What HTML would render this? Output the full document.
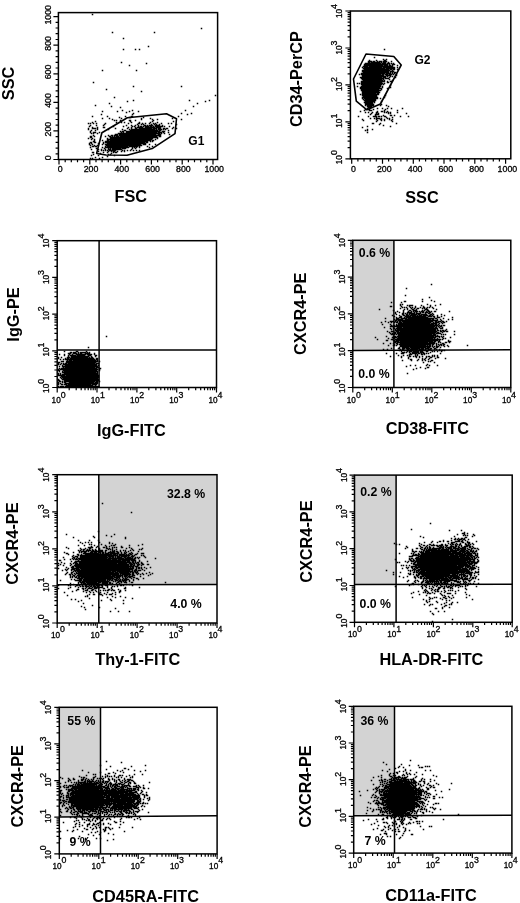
<!DOCTYPE html>
<html lang="en">
<head>
<meta charset="utf-8">
<title>Flow cytometry figure</title>
<style>
html,body{margin:0;padding:0;background:#fff}
svg{display:block;font-family:"Liberation Sans", Arial, Helvetica, sans-serif;fill:#000}
</style>
</head>
<body>
<svg width="520" height="903" viewBox="0 0 520 903">
<rect width="520" height="903" fill="#fff"/>
<path transform="translate(58.5 12.5)" d="M34 2h0M143 16h0M54 20h0M96 20h0M65 26h0M90 34h0M65 37h0M77 37h0M81 37h0M63 50h0M88 51h0M71 53h0M44 58h0M78 58h0M35 70h0M75 74h0M123 74h0M48 77h0M83 79h0M157 83h0M56 85h0M75 88h0M131 88h0M151 88h0M69 89h0M147 89h0M51 91h0M139 91h0M37 93h0M53 94h0M135 94h0M62 95h0M64 98h0M74 98h0M127 98h0M44 99h0M59 99h0M71 99h0M80 99h0M68 100h0M75 101h0M123 101h0M133 101h0M43 102h0M74 102h0M129 102h0M34 104h0M49 104h0M67 104h0M73 104h1M120 104h0M61 105h0M71 105h1M85 105h0M44 106h0M51 106h0M63 106h0M83 106h0M92 106h0M114 106h0M54 107h0M83 107h0M94 107h0M99 107h0M123 107h0M56 108h0M58 108h0M62 108h0M71 108h1M77 108h0M95 108h0M37 109h0M72 109h0M94 109h0M115 109h0M34 110h0M58 110h0M63 110h0M66 110h0M73 110h0M81 110h0M92 110h0M99 110h0M30 111h0M32 111h0M35 111h0M38 111h0M47 111h0M70 111h0M80 111h1M84 111h0M87 111h0M91 111h0M95 111h0M97 111h0M103 111h0M110 111h0M113 111h0M46 112h0M79 112h0M83 112h0M85 112h0M93 112h0M96 112h0M98 112h0M101 112h0M118 112h0M32 113h0M38 113h0M45 113h0M68 113h0M73 113h0M77 113h0M80 113h0M86 113h1M89 113h0M91 113h3M97 113h4M104 113h0M31 114h0M55 114h0M65 114h0M74 114h0M76 114h0M80 114h0M82 114h1M85 114h0M87 114h3M92 114h1M95 114h0M97 114h7M106 114h0M111 114h0M34 115h0M39 115h0M45 115h1M70 115h0M73 115h0M77 115h0M79 115h5M87 115h9M98 115h4M115 115h0M30 116h0M34 116h3M39 116h0M57 116h0M69 116h0M73 116h0M77 116h1M81 116h12M95 116h3M100 116h2M105 116h1M108 116h1M114 116h0M118 116h0M30 117h0M39 117h0M50 117h0M64 117h0M71 117h0M73 117h23M98 117h0M100 117h3M105 117h0M107 117h0M33 118h0M37 118h0M66 118h1M72 118h27M101 118h1M110 118h0M32 119h0M62 119h0M64 119h1M68 119h33M104 119h2M32 120h0M35 120h2M41 120h0M63 120h0M65 120h0M68 120h30M100 120h3M105 120h0M110 120h0M33 121h0M35 121h0M39 121h0M60 121h41M103 121h0M106 121h0M57 122h2M61 122h36M100 122h2M111 122h0M35 123h0M50 123h0M53 123h1M56 123h3M61 123h41M32 124h1M36 124h0M47 124h0M51 124h1M54 124h0M56 124h0M58 124h2M62 124h36M101 124h1M32 125h1M52 125h47M30 126h0M34 126h0M49 126h0M52 126h42M99 126h0M33 127h0M36 127h0M49 127h44M97 127h0M36 128h0M44 128h0M49 128h1M52 128h40M94 128h1M35 129h1M47 129h42M92 129h0M94 129h0M32 130h1M36 130h1M45 130h0M47 130h39M88 130h1M31 131h0M33 131h0M40 131h0M45 131h0M49 131h38M31 132h0M34 132h0M44 132h0M47 132h35M85 132h2M91 132h0M97 132h0M32 133h0M36 133h0M39 133h0M48 133h35M34 134h1M37 134h1M47 134h0M49 134h20M71 134h8M81 134h0M89 134h0M94 134h0M32 135h0M44 135h0M47 135h23M74 135h0M76 135h0M78 135h0M81 135h0M91 135h0M38 136h0M46 136h0M50 136h0M52 136h0M54 136h8M64 136h3M74 136h0M77 136h0M33 137h0M40 137h0M43 137h0M47 137h0M50 137h2M54 137h9M73 137h0M43 138h0M45 138h0M47 138h0M49 138h0M51 138h6M64 138h0M66 138h0M69 138h0M72 138h0M75 138h0M78 138h0M81 138h0M40 139h0M50 139h0M53 139h0M55 139h1M59 139h0M63 139h0M66 139h0M34 140h1M45 140h0M49 140h0M55 140h0M57 140h1M42 141h0M53 141h0M35 142h0M50 142h0M52 142h0M33 143h0M40 143h0M56 143h0M49 144h0M37 145h0M44 145h0M32 146h0M34 146h0M41 146h0" fill="none" stroke="#000" stroke-width="1.5" stroke-linecap="square"/>
<polygon points="96.6,153.5 101.9,132.7 127.3,117.7 166.5,113.8 176.5,118.8 175,133.6 152.2,148.6 127,155.2 106,155" fill="none" stroke="#000" stroke-width="1.6" stroke-linejoin="round"/>
<rect x="58.4" y="12.6" width="159.2" height="146.9" fill="none" stroke="#000" stroke-width="1.5"/>
<path d="M59 159.5L59 164.5M65.2 159.5L65.2 162.3M71.3 159.5L71.3 162.3M77.5 159.5L77.5 162.3M83.6 159.5L83.6 162.3M89.8 159.5L89.8 164.5M96 159.5L96 162.3M102.1 159.5L102.1 162.3M108.3 159.5L108.3 162.3M114.4 159.5L114.4 162.3M120.6 159.5L120.6 164.5M126.8 159.5L126.8 162.3M132.9 159.5L132.9 162.3M139.1 159.5L139.1 162.3M145.2 159.5L145.2 162.3M151.4 159.5L151.4 164.5M157.6 159.5L157.6 162.3M163.7 159.5L163.7 162.3M169.9 159.5L169.9 162.3M176 159.5L176 162.3M182.2 159.5L182.2 164.5M188.4 159.5L188.4 162.3M194.5 159.5L194.5 162.3M200.7 159.5L200.7 162.3M206.8 159.5L206.8 162.3M213 159.5L213 164.5M53.4 159.5L58.4 159.5M55.6 153.8L58.4 153.8M55.6 148.1L58.4 148.1M55.6 142.4L58.4 142.4M55.6 136.6L58.4 136.6M53.4 130.9L58.4 130.9M55.6 125.2L58.4 125.2M55.6 119.5L58.4 119.5M55.6 113.8L58.4 113.8M55.6 108.1L58.4 108.1M53.4 102.3L58.4 102.3M55.6 96.6L58.4 96.6M55.6 90.9L58.4 90.9M55.6 85.2L58.4 85.2M55.6 79.5L58.4 79.5M53.4 73.8L58.4 73.8M55.6 68L58.4 68M55.6 62.3L58.4 62.3M55.6 56.6L58.4 56.6M55.6 50.9L58.4 50.9M53.4 45.2L58.4 45.2M55.6 39.5L58.4 39.5M55.6 33.7L58.4 33.7M55.6 28L58.4 28M55.6 22.3L58.4 22.3M53.4 16.6L58.4 16.6" stroke="#000" stroke-width="1.2" fill="none"/>
<text x="60.2" y="172.1" font-size="8.8" stroke="#000" stroke-width="0.3" text-anchor="middle">0</text>
<text transform="translate(50.8 157.7) rotate(-90)" font-size="8.8" stroke="#000" stroke-width="0.3" text-anchor="middle">0</text>
<text x="91" y="172.1" font-size="8.8" stroke="#000" stroke-width="0.3" text-anchor="middle">200</text>
<text transform="translate(50.8 129.1) rotate(-90)" font-size="8.8" stroke="#000" stroke-width="0.3" text-anchor="middle">200</text>
<text x="121.8" y="172.1" font-size="8.8" stroke="#000" stroke-width="0.3" text-anchor="middle">400</text>
<text transform="translate(50.8 100.5) rotate(-90)" font-size="8.8" stroke="#000" stroke-width="0.3" text-anchor="middle">400</text>
<text x="152.6" y="172.1" font-size="8.8" stroke="#000" stroke-width="0.3" text-anchor="middle">600</text>
<text transform="translate(50.8 72) rotate(-90)" font-size="8.8" stroke="#000" stroke-width="0.3" text-anchor="middle">600</text>
<text x="183.4" y="172.1" font-size="8.8" stroke="#000" stroke-width="0.3" text-anchor="middle">800</text>
<text transform="translate(50.8 43.4) rotate(-90)" font-size="8.8" stroke="#000" stroke-width="0.3" text-anchor="middle">800</text>
<text x="214.2" y="172.1" font-size="8.8" stroke="#000" stroke-width="0.3" text-anchor="middle">1000</text>
<text transform="translate(50.8 14.8) rotate(-90)" font-size="8.8" stroke="#000" stroke-width="0.3" text-anchor="middle">1000</text>
<text x="188.3" y="144.8" font-size="12" font-weight="bold" text-anchor="start">G1</text>
<text transform="translate(14.2 83.5) rotate(-90)" font-size="16.3" font-weight="bold" text-anchor="middle">SSC</text>
<text x="130.8" y="201.9" font-size="16.3" font-weight="bold" text-anchor="middle">FSC</text>
<path transform="translate(350.5 11.5)" d="M34 38h0M24 46h0M33 48h0M36 48h0M19 49h0M26 49h0M34 49h1M18 50h3M23 50h1M27 50h0M29 50h2M33 50h3M41 50h0M18 51h1M21 51h8M31 51h0M33 51h2M38 51h0M15 52h15M32 52h3M37 52h2M41 52h0M43 52h0M14 53h23M39 53h0M42 53h2M14 54h18M34 54h3M39 54h1M42 54h0M47 54h0M13 55h4M19 55h23M12 56h0M14 56h17M33 56h11M47 56h0M13 57h21M36 57h8M14 58h24M40 58h1M43 58h1M47 58h0M12 59h27M42 59h0M12 60h26M40 60h3M13 61h25M40 61h0M42 61h0M44 61h1M11 62h23M36 62h4M42 62h0M44 62h0M9 63h0M11 63h19M32 63h1M35 63h2M39 63h2M43 63h0M46 63h0M12 64h21M36 64h4M46 64h0M12 65h23M37 65h0M40 65h0M42 65h0M10 66h21M33 66h2M39 66h0M45 66h0M11 67h22M35 67h3M12 68h19M33 68h0M39 68h0M13 69h19M34 69h0M42 69h0M11 70h23M37 70h0M40 70h1M11 71h20M37 71h1M7 72h0M9 72h0M11 72h21M34 72h0M11 73h20M33 73h0M12 74h18M40 74h0M7 75h0M11 75h19M32 75h0M10 76h19M32 76h0M40 76h0M10 77h21M37 77h0M11 78h17M31 78h0M11 79h19M12 80h16M12 81h17M12 82h13M27 82h1M10 83h0M12 83h16M12 84h14M35 84h0M13 85h13M12 86h15M34 86h0M12 87h0M14 87h13M30 87h0M13 88h0M15 88h10M14 89h11M15 90h9M31 90h0M14 91h8M24 91h0M15 92h7M15 93h8M31 93h0M15 94h0M17 94h6M30 94h0M36 94h0M17 95h4M38 95h0M18 96h3M17 97h0M27 97h0M32 97h0M37 97h0M41 97h0M52 97h0M15 98h0M18 98h1M23 98h0M35 98h0M14 99h0M19 99h2M34 99h0M47 99h0M10 100h0M27 100h0M31 100h1M34 100h0M37 100h0M15 101h0M18 101h0M22 101h0M26 101h1M34 101h0M36 101h0M38 101h0M40 101h0M47 101h0M21 102h0M26 102h0M28 102h0M38 102h0M40 102h0M56 102h0M20 103h0M25 103h3M25 104h0M33 104h0M40 104h1M44 104h0M8 105h0M18 105h0M23 105h3M28 105h1M31 105h0M34 105h1M50 105h0M58 105h0M26 106h0M36 106h0M42 106h0M20 107h0M24 107h0M26 107h3M31 107h0M37 107h0M39 107h0M12 108h0M26 108h0M30 108h1M34 108h0M39 108h0M42 108h0M13 109h0M27 109h0M31 109h0M34 109h0M41 109h0M26 110h0M42 110h0M22 112h1M30 112h0M46 112h0M29 113h0M33 114h0M17 115h0M40 115h0M12 116h0M17 118h0M22 118h0M15 119h0M17 119h0M17 121h0" fill="none" stroke="#000" stroke-width="1.5" stroke-linecap="square"/>
<polygon points="366,54 393.8,56.5 401.2,65 380.4,104 366.9,109.8 356.3,101.2 353.5,79" fill="none" stroke="#000" stroke-width="1.6" stroke-linejoin="round"/>
<rect x="350.4" y="11" width="160.4" height="147.8" fill="none" stroke="#000" stroke-width="1.5"/>
<path d="M351.7 158.8L351.7 163.8M357.9 158.8L357.9 161.6M364 158.8L364 161.6M370.2 158.8L370.2 161.6M376.3 158.8L376.3 161.6M382.5 158.8L382.5 163.8M388.6 158.8L388.6 161.6M394.8 158.8L394.8 161.6M400.9 158.8L400.9 161.6M407.1 158.8L407.1 161.6M413.3 158.8L413.3 163.8M419.4 158.8L419.4 161.6M425.6 158.8L425.6 161.6M431.7 158.8L431.7 161.6M437.9 158.8L437.9 161.6M444 158.8L444 163.8M450.2 158.8L450.2 161.6M456.4 158.8L456.4 161.6M462.5 158.8L462.5 161.6M468.7 158.8L468.7 161.6M474.8 158.8L474.8 163.8M481 158.8L481 161.6M487.1 158.8L487.1 161.6M493.3 158.8L493.3 161.6M499.4 158.8L499.4 161.6M505.6 158.8L505.6 163.8M345.4 158.8L350.4 158.8M347.6 147.7L350.4 147.7M347.6 141.2L350.4 141.2M347.6 136.6L350.4 136.6M347.6 133L350.4 133M347.6 130L350.4 130M347.6 127.6L350.4 127.6M347.6 125.4L350.4 125.4M347.6 123.5L350.4 123.5M345.4 121.9L350.4 121.9M347.6 110.7L350.4 110.7M347.6 104.2L350.4 104.2M347.6 99.6L350.4 99.6M347.6 96L350.4 96M347.6 93.1L350.4 93.1M347.6 90.6L350.4 90.6M347.6 88.5L350.4 88.5M347.6 86.6L350.4 86.6M345.4 84.9L350.4 84.9M347.6 73.8L350.4 73.8M347.6 67.3L350.4 67.3M347.6 62.7L350.4 62.7M347.6 59.1L350.4 59.1M347.6 56.1L350.4 56.1M347.6 53.7L350.4 53.7M347.6 51.5L350.4 51.5M347.6 49.6L350.4 49.6M345.4 48L350.4 48M347.6 36.8L350.4 36.8M347.6 30.3L350.4 30.3M347.6 25.7L350.4 25.7M347.6 22.1L350.4 22.1M347.6 19.2L350.4 19.2M347.6 16.7L350.4 16.7M347.6 14.6L350.4 14.6M347.6 12.7L350.4 12.7M345.4 11L350.4 11" stroke="#000" stroke-width="1.2" fill="none"/>
<text x="353.5" y="171.7" font-size="8.8" stroke="#000" stroke-width="0.3" text-anchor="middle">0</text>
<text x="384.3" y="171.7" font-size="8.8" stroke="#000" stroke-width="0.3" text-anchor="middle">200</text>
<text x="415.1" y="171.7" font-size="8.8" stroke="#000" stroke-width="0.3" text-anchor="middle">400</text>
<text x="445.8" y="171.7" font-size="8.8" stroke="#000" stroke-width="0.3" text-anchor="middle">600</text>
<text x="476.6" y="171.7" font-size="8.8" stroke="#000" stroke-width="0.3" text-anchor="middle">800</text>
<text x="507.4" y="171.7" font-size="8.8" stroke="#000" stroke-width="0.3" text-anchor="middle">1000</text>
<text transform="translate(342.2 164.2) rotate(-90)" font-size="8.2" stroke="#000" stroke-width="0.3" text-anchor="start">10<tspan dy="-5.2" font-size="8.8">0</tspan></text>
<text transform="translate(342.2 127.7) rotate(-90)" font-size="8.2" stroke="#000" stroke-width="0.3" text-anchor="start">10<tspan dy="-5.2" font-size="8.8">1</tspan></text>
<text transform="translate(342.2 91.1) rotate(-90)" font-size="8.2" stroke="#000" stroke-width="0.3" text-anchor="start">10<tspan dy="-5.2" font-size="8.8">2</tspan></text>
<text transform="translate(342.2 54.6) rotate(-90)" font-size="8.2" stroke="#000" stroke-width="0.3" text-anchor="start">10<tspan dy="-5.2" font-size="8.8">3</tspan></text>
<text transform="translate(342.2 18) rotate(-90)" font-size="8.2" stroke="#000" stroke-width="0.3" text-anchor="start">10<tspan dy="-5.2" font-size="8.8">4</tspan></text>
<text x="414.4" y="63.7" font-size="12" font-weight="bold" text-anchor="start">G2</text>
<text transform="translate(301.5 79.1) rotate(-90)" font-size="16.3" font-weight="bold" text-anchor="middle">CD34-PerCP</text>
<text x="422" y="203.1" font-size="16.3" font-weight="bold" text-anchor="middle">SSC</text>
<path transform="translate(57.5 240.5)" d="M49 96h0M31 107h0M7 111h0M19 111h1M29 111h0M13 112h1M16 112h2M21 112h0M23 112h5M30 112h0M32 112h0M11 113h2M16 113h3M21 113h0M23 113h1M28 113h4M37 113h0M2 114h0M7 114h0M12 114h0M15 114h0M19 114h9M30 114h4M37 114h0M7 115h0M11 115h0M13 115h5M20 115h7M31 115h2M38 115h1M11 116h0M14 116h17M34 116h0M38 116h0M1 117h0M4 117h0M10 117h2M14 117h16M32 117h0M34 117h1M1 118h0M8 118h0M10 118h1M13 118h23M39 118h1M3 119h0M6 119h0M8 119h29M39 119h1M10 120h0M12 120h2M16 120h22M40 120h0M4 121h2M9 121h31M42 121h0M1 122h1M9 122h29M1 123h0M4 123h0M6 123h0M8 123h1M11 123h26M39 123h2M1 124h0M3 124h0M6 124h33M5 125h0M8 125h31M41 125h0M2 126h0M5 126h35M6 127h0M8 127h29M39 127h2M2 128h0M4 128h35M42 128h1M1 129h0M3 129h37M42 129h0M1 130h1M6 130h33M42 130h0M2 131h0M5 131h0M7 131h33M5 132h33M40 132h0M1 133h0M3 133h0M7 133h33M1 134h0M3 134h0M5 134h35M1 135h6M9 135h32M4 136h37M3 137h0M5 137h36M4 138h0M6 138h34M1 139h0M5 139h36M1 140h1M7 140h34M2 141h1M5 141h0M7 141h30M39 141h1M42 141h0M1 142h0M5 142h0M7 142h1M12 142h24M38 142h2M1 143h0M3 143h0M8 143h32M1 144h0M4 144h1M7 144h2M11 144h22M35 144h4M9 145h26M38 145h0M1 146h0M3 146h3M8 146h33" fill="none" stroke="#000" stroke-width="1.5" stroke-linecap="square"/>
<rect x="57.2" y="240.7" width="159.3" height="146.8" fill="none" stroke="#000" stroke-width="1.5"/>
<path d="M99.1 240.7L99.1 387.5" stroke="#000" stroke-width="1.5" fill="none"/>
<path d="M57.2 350L216.5 350" stroke="#000" stroke-width="1.5" fill="none"/>
<path d="M57.2 387.5L57.2 392.5M69.2 387.5L69.2 390.3M76.2 387.5L76.2 390.3M81.2 387.5L81.2 390.3M85 387.5L85 390.3M88.2 387.5L88.2 390.3M90.9 387.5L90.9 390.3M93.2 387.5L93.2 390.3M95.2 387.5L95.2 390.3M97 387.5L97 392.5M109 387.5L109 390.3M116 387.5L116 390.3M121 387.5L121 390.3M124.9 387.5L124.9 390.3M128 387.5L128 390.3M130.7 387.5L130.7 390.3M133 387.5L133 390.3M135 387.5L135 390.3M136.9 387.5L136.9 392.5M148.8 387.5L148.8 390.3M155.9 387.5L155.9 390.3M160.8 387.5L160.8 390.3M164.7 387.5L164.7 390.3M167.8 387.5L167.8 390.3M170.5 387.5L170.5 390.3M172.8 387.5L172.8 390.3M174.9 387.5L174.9 390.3M176.7 387.5L176.7 392.5M188.7 387.5L188.7 390.3M195.7 387.5L195.7 390.3M200.7 387.5L200.7 390.3M204.5 387.5L204.5 390.3M207.7 387.5L207.7 390.3M210.3 387.5L210.3 390.3M212.6 387.5L212.6 390.3M214.7 387.5L214.7 390.3M216.5 387.5L216.5 392.5M52.2 387.5L57.2 387.5M54.4 376.5L57.2 376.5M54.4 370L57.2 370M54.4 365.4L57.2 365.4M54.4 361.8L57.2 361.8M54.4 358.9L57.2 358.9M54.4 356.5L57.2 356.5M54.4 354.4L57.2 354.4M54.4 352.5L57.2 352.5M52.2 350.8L57.2 350.8M54.4 339.8L57.2 339.8M54.4 333.3L57.2 333.3M54.4 328.7L57.2 328.7M54.4 325.1L57.2 325.1M54.4 322.2L57.2 322.2M54.4 319.8L57.2 319.8M54.4 317.7L57.2 317.7M54.4 315.8L57.2 315.8M52.2 314.1L57.2 314.1M54.4 303.1L57.2 303.1M54.4 296.6L57.2 296.6M54.4 292L57.2 292M54.4 288.4L57.2 288.4M54.4 285.5L57.2 285.5M54.4 283.1L57.2 283.1M54.4 281L57.2 281M54.4 279.1L57.2 279.1M52.2 277.4L57.2 277.4M54.4 266.4L57.2 266.4M54.4 259.9L57.2 259.9M54.4 255.3L57.2 255.3M54.4 251.7L57.2 251.7M54.4 248.8L57.2 248.8M54.4 246.4L57.2 246.4M54.4 244.3L57.2 244.3M54.4 242.4L57.2 242.4M52.2 240.7L57.2 240.7" stroke="#000" stroke-width="1.2" fill="none"/>
<text x="51.6" y="403.4" font-size="8.2" stroke="#000" stroke-width="0.3" text-anchor="start">10<tspan dy="-5.2" font-size="8.8">0</tspan></text>
<text transform="translate(49.2 392.9) rotate(-90)" font-size="8.2" stroke="#000" stroke-width="0.3" text-anchor="start">10<tspan dy="-5.2" font-size="8.8">0</tspan></text>
<text x="90.8" y="403.4" font-size="8.2" stroke="#000" stroke-width="0.3" text-anchor="start">10<tspan dy="-5.2" font-size="8.8">1</tspan></text>
<text transform="translate(49.2 356.6) rotate(-90)" font-size="8.2" stroke="#000" stroke-width="0.3" text-anchor="start">10<tspan dy="-5.2" font-size="8.8">1</tspan></text>
<text x="130.1" y="403.4" font-size="8.2" stroke="#000" stroke-width="0.3" text-anchor="start">10<tspan dy="-5.2" font-size="8.8">2</tspan></text>
<text transform="translate(49.2 320.3) rotate(-90)" font-size="8.2" stroke="#000" stroke-width="0.3" text-anchor="start">10<tspan dy="-5.2" font-size="8.8">2</tspan></text>
<text x="169.3" y="403.4" font-size="8.2" stroke="#000" stroke-width="0.3" text-anchor="start">10<tspan dy="-5.2" font-size="8.8">3</tspan></text>
<text transform="translate(49.2 284) rotate(-90)" font-size="8.2" stroke="#000" stroke-width="0.3" text-anchor="start">10<tspan dy="-5.2" font-size="8.8">3</tspan></text>
<text x="208.5" y="403.4" font-size="8.2" stroke="#000" stroke-width="0.3" text-anchor="start">10<tspan dy="-5.2" font-size="8.8">4</tspan></text>
<text transform="translate(49.2 247.7) rotate(-90)" font-size="8.2" stroke="#000" stroke-width="0.3" text-anchor="start">10<tspan dy="-5.2" font-size="8.8">4</tspan></text>
<text transform="translate(19 314.5) rotate(-90)" font-size="16.3" font-weight="bold" text-anchor="middle">IgG-PE</text>
<text x="131.3" y="435.6" font-size="16.3" font-weight="bold" text-anchor="middle">IgG-FITC</text>
<rect x="352.8" y="240.3" width="41.1" height="110.3" fill="#d3d3d3"/>
<path transform="translate(352.5 240.5)" d="M79 44h0M54 48h0M53 55h0M77 57h0M70 59h0M79 60h0M52 61h1M70 61h0M82 61h0M39 62h0M49 62h0M48 64h0M50 64h0M75 64h0M88 64h0M48 65h0M55 65h0M57 65h3M69 65h0M78 65h0M83 65h0M38 66h1M49 66h0M57 66h0M63 66h0M71 66h0M78 66h0M50 67h0M52 67h0M54 67h0M58 67h0M60 67h0M63 67h0M68 67h0M71 67h1M75 67h0M77 67h0M80 67h0M48 68h0M55 68h0M59 68h0M62 68h0M65 68h1M70 68h0M72 68h0M74 68h0M81 68h0M27 69h0M52 69h0M55 69h0M60 69h1M64 69h0M73 69h2M84 69h0M41 70h0M51 70h0M57 70h1M61 70h3M70 70h0M72 70h0M75 70h1M45 71h0M51 71h0M56 71h0M59 71h0M61 71h0M63 71h2M67 71h0M69 71h2M74 71h0M76 71h1M79 71h0M82 71h1M97 71h0M43 72h0M47 72h0M51 72h0M55 72h4M62 72h0M64 72h0M68 72h0M70 72h1M73 72h2M77 72h1M43 73h0M50 73h1M53 73h0M55 73h0M57 73h5M64 73h4M73 73h0M76 73h1M80 73h0M44 74h0M50 74h1M54 74h1M57 74h0M59 74h5M66 74h1M69 74h5M78 74h1M81 74h0M89 74h0M40 75h0M47 75h0M51 75h1M54 75h2M58 75h5M65 75h0M67 75h2M71 75h4M77 75h1M80 75h0M85 75h0M92 75h0M42 76h0M48 76h1M53 76h5M60 76h13M76 76h3M81 76h1M85 76h0M89 76h0M44 77h0M47 77h2M52 77h0M54 77h21M82 77h0M85 77h2M100 77h0M33 78h0M44 78h2M49 78h5M56 78h25M83 78h1M91 78h0M42 79h0M44 79h6M53 79h25M80 79h1M85 79h0M88 79h0M96 79h0M100 79h0M43 80h1M46 80h39M89 80h0M33 81h0M38 81h3M43 81h0M45 81h0M47 81h1M50 81h30M83 81h1M86 81h2M90 81h1M94 81h0M29 82h0M36 82h0M39 82h0M42 82h0M44 82h1M47 82h2M51 82h27M81 82h0M83 82h3M89 82h0M91 82h1M46 83h31M79 83h5M87 83h0M90 83h0M30 84h0M38 84h0M44 84h0M46 84h35M83 84h1M86 84h0M39 85h0M41 85h1M44 85h41M87 85h0M89 85h0M91 85h1M38 86h2M42 86h40M84 86h0M86 86h0M88 86h1M32 87h0M41 87h0M45 87h4M51 87h30M83 87h1M87 87h0M90 87h0M38 88h0M41 88h1M44 88h41M88 88h2M39 89h0M43 89h0M45 89h38M85 89h0M94 89h0M43 90h40M85 90h1M88 90h0M90 90h1M93 90h0M35 91h0M39 91h2M44 91h2M48 91h36M88 91h1M91 91h1M94 91h1M102 91h0M37 92h0M42 92h1M45 92h38M85 92h1M90 92h0M38 93h0M40 93h0M42 93h1M45 93h37M84 93h4M39 94h3M44 94h0M46 94h33M81 94h2M89 94h0M91 94h0M93 94h0M102 94h0M46 95h37M85 95h0M34 96h0M41 96h2M45 96h36M83 96h4M89 96h0M91 96h0M23 97h0M40 97h4M46 97h37M87 97h0M90 97h0M98 97h0M36 98h0M41 98h1M45 98h35M82 98h0M85 98h0M91 98h0M93 98h0M25 99h0M39 99h1M43 99h45M90 99h0M34 100h1M41 100h1M44 100h41M87 100h0M96 100h0M42 101h4M48 101h32M82 101h1M86 101h1M96 101h2M42 102h1M45 102h30M77 102h5M86 102h0M88 102h0M93 102h1M97 102h0M31 103h0M38 103h0M41 103h0M44 103h1M48 103h34M84 103h0M90 103h1M42 104h0M45 104h0M47 104h31M80 104h1M84 104h0M86 104h0M88 104h1M91 104h1M36 105h0M41 105h1M44 105h0M48 105h25M75 105h0M77 105h1M80 105h0M84 105h0M87 105h0M89 105h0M91 105h0M95 105h0M115 105h0M48 106h30M80 106h0M82 106h0M84 106h2M92 106h0M96 106h0M47 107h0M50 107h6M58 107h15M75 107h2M81 107h0M84 107h1M88 107h0M39 108h0M46 108h1M50 108h2M54 108h3M59 108h8M69 108h2M73 108h3M78 108h1M82 108h1M31 109h0M35 109h0M48 109h0M50 109h1M55 109h1M58 109h7M67 109h4M73 109h0M76 109h2M82 109h0M84 109h0M87 109h0M47 110h0M52 110h0M54 110h0M56 110h2M60 110h0M63 110h1M66 110h4M72 110h4M79 110h0M87 110h0M89 110h1M92 110h0M49 111h0M55 111h0M57 111h2M61 111h5M68 111h2M74 111h1M80 111h0M82 111h0M85 111h0M89 111h0M50 112h2M54 112h0M57 112h0M60 112h6M68 112h3M78 112h0M34 113h0M44 113h0M49 113h2M58 113h0M60 113h4M66 113h1M69 113h0M71 113h1M74 113h0M76 113h0M88 113h0M57 114h2M63 114h0M65 114h0M69 114h1M72 114h0M46 115h0M51 115h0M55 115h0M57 115h0M63 115h0M65 115h0M80 115h0M82 115h0M85 115h0M38 116h0M49 116h0M57 116h1M61 116h0M63 116h1M67 116h0M70 116h0M74 116h0M76 116h1M80 116h0M82 116h0M85 116h0M49 117h0M56 117h0M64 117h0M67 117h0M74 117h0M78 117h1M85 117h1M56 118h0M70 118h0M73 118h0M77 118h0M83 118h0M93 118h0M58 119h1M66 119h0M70 119h0M72 119h0M76 119h0M50 120h0M59 120h0M65 120h0M70 120h0M73 120h0M79 120h1M76 121h0M78 121h0M71 122h0M82 122h0M75 124h0M58 125h0M63 125h0M74 125h0M77 125h0M85 125h0M54 126h0M68 127h0M75 127h1M64 128h0M73 128h0M61 129h0M55 133h0" fill="none" stroke="#000" stroke-width="1.5" stroke-linecap="square"/>
<rect x="352.8" y="240.3" width="158" height="147.2" fill="none" stroke="#000" stroke-width="1.5"/>
<path d="M393.9 240.3L393.9 387.5" stroke="#000" stroke-width="1.5" fill="none"/>
<path d="M352.8 350.6L510.8 349.8" stroke="#000" stroke-width="1.5" fill="none"/>
<path d="M352.8 387.5L352.8 392.5M364.7 387.5L364.7 390.3M371.6 387.5L371.6 390.3M376.6 387.5L376.6 390.3M380.4 387.5L380.4 390.3M383.5 387.5L383.5 390.3M386.2 387.5L386.2 390.3M388.5 387.5L388.5 390.3M390.5 387.5L390.5 390.3M392.3 387.5L392.3 392.5M404.2 387.5L404.2 390.3M411.1 387.5L411.1 390.3M416.1 387.5L416.1 390.3M419.9 387.5L419.9 390.3M423 387.5L423 390.3M425.7 387.5L425.7 390.3M428 387.5L428 390.3M430 387.5L430 390.3M431.8 387.5L431.8 392.5M443.7 387.5L443.7 390.3M450.6 387.5L450.6 390.3M455.6 387.5L455.6 390.3M459.4 387.5L459.4 390.3M462.5 387.5L462.5 390.3M465.2 387.5L465.2 390.3M467.5 387.5L467.5 390.3M469.5 387.5L469.5 390.3M471.3 387.5L471.3 392.5M483.2 387.5L483.2 390.3M490.1 387.5L490.1 390.3M495.1 387.5L495.1 390.3M498.9 387.5L498.9 390.3M502 387.5L502 390.3M504.7 387.5L504.7 390.3M507 387.5L507 390.3M509 387.5L509 390.3M510.8 387.5L510.8 392.5M347.8 387.5L352.8 387.5M350 376.4L352.8 376.4M350 369.9L352.8 369.9M350 365.3L352.8 365.3M350 361.8L352.8 361.8M350 358.9L352.8 358.9M350 356.4L352.8 356.4M350 354.3L352.8 354.3M350 352.4L352.8 352.4M347.8 350.7L352.8 350.7M350 339.6L352.8 339.6M350 333.1L352.8 333.1M350 328.5L352.8 328.5M350 325L352.8 325M350 322.1L352.8 322.1M350 319.6L352.8 319.6M350 317.5L352.8 317.5M350 315.6L352.8 315.6M347.8 313.9L352.8 313.9M350 302.8L352.8 302.8M350 296.3L352.8 296.3M350 291.7L352.8 291.7M350 288.2L352.8 288.2M350 285.3L352.8 285.3M350 282.8L352.8 282.8M350 280.7L352.8 280.7M350 278.8L352.8 278.8M347.8 277.1L352.8 277.1M350 266L352.8 266M350 259.5L352.8 259.5M350 254.9L352.8 254.9M350 251.4L352.8 251.4M350 248.5L352.8 248.5M350 246L352.8 246M350 243.9L352.8 243.9M350 242L352.8 242M347.8 240.3L352.8 240.3" stroke="#000" stroke-width="1.2" fill="none"/>
<text x="346.8" y="403.4" font-size="8.2" stroke="#000" stroke-width="0.3" text-anchor="start">10<tspan dy="-5.2" font-size="8.8">0</tspan></text>
<text transform="translate(345.2 392.9) rotate(-90)" font-size="8.2" stroke="#000" stroke-width="0.3" text-anchor="start">10<tspan dy="-5.2" font-size="8.8">0</tspan></text>
<text x="385.6" y="403.4" font-size="8.2" stroke="#000" stroke-width="0.3" text-anchor="start">10<tspan dy="-5.2" font-size="8.8">1</tspan></text>
<text transform="translate(345.2 356.5) rotate(-90)" font-size="8.2" stroke="#000" stroke-width="0.3" text-anchor="start">10<tspan dy="-5.2" font-size="8.8">1</tspan></text>
<text x="424.4" y="403.4" font-size="8.2" stroke="#000" stroke-width="0.3" text-anchor="start">10<tspan dy="-5.2" font-size="8.8">2</tspan></text>
<text transform="translate(345.2 320.1) rotate(-90)" font-size="8.2" stroke="#000" stroke-width="0.3" text-anchor="start">10<tspan dy="-5.2" font-size="8.8">2</tspan></text>
<text x="463.1" y="403.4" font-size="8.2" stroke="#000" stroke-width="0.3" text-anchor="start">10<tspan dy="-5.2" font-size="8.8">3</tspan></text>
<text transform="translate(345.2 283.7) rotate(-90)" font-size="8.2" stroke="#000" stroke-width="0.3" text-anchor="start">10<tspan dy="-5.2" font-size="8.8">3</tspan></text>
<text x="501.9" y="403.4" font-size="8.2" stroke="#000" stroke-width="0.3" text-anchor="start">10<tspan dy="-5.2" font-size="8.8">4</tspan></text>
<text transform="translate(345.2 247.3) rotate(-90)" font-size="8.2" stroke="#000" stroke-width="0.3" text-anchor="start">10<tspan dy="-5.2" font-size="8.8">4</tspan></text>
<text x="358.8" y="256.9" font-size="12.3" font-weight="bold" text-anchor="start">0.6 %</text>
<text x="358.2" y="377.5" font-size="12.3" font-weight="bold" text-anchor="start">0.0 %</text>
<text transform="translate(305.9 313.8) rotate(-90)" font-size="16.3" font-weight="bold" text-anchor="middle">CXCR4-PE</text>
<text x="427.3" y="434.3" font-size="16.3" font-weight="bold" text-anchor="middle">CD38-FITC</text>
<rect x="98.8" y="474.7" width="118.2" height="110.1" fill="#d3d3d3"/>
<path transform="translate(57.5 474.5)" d="M45 29h0M74 38h0M41 57h0M9 60h0M57 60h0M49 61h0M36 62h0M54 62h0M16 63h0M37 63h0M68 63h0M68 64h0M21 66h0M32 66h0M41 66h0M23 68h0M28 68h0M31 68h0M34 68h0M42 68h0M52 68h0M25 69h0M52 69h0M55 69h0M32 70h0M34 70h0M44 70h0M58 70h0M85 70h0M21 71h0M27 71h0M37 71h0M48 71h0M54 71h0M56 71h1M72 71h0M81 71h0M34 72h0M40 72h0M49 72h0M52 72h0M64 72h0M9 73h0M31 73h4M39 73h0M46 73h1M49 73h0M55 73h0M57 73h0M59 73h0M64 73h1M72 73h0M11 74h0M23 74h0M28 74h0M32 74h1M42 74h0M49 74h1M52 74h0M55 74h0M69 74h0M74 74h0M85 74h0M24 75h0M26 75h1M30 75h0M32 75h0M35 75h0M38 75h0M42 75h0M51 75h0M53 75h0M55 75h0M59 75h0M75 75h0M82 75h0M84 75h0M21 76h0M23 76h0M26 76h0M29 76h4M35 76h1M38 76h1M42 76h3M48 76h1M55 76h0M57 76h0M63 76h0M66 76h0M68 76h0M73 76h0M76 76h0M22 77h0M24 77h5M31 77h0M34 77h11M48 77h0M53 77h0M55 77h2M59 77h1M63 77h0M68 77h0M71 77h0M81 77h0M7 78h0M16 78h0M22 78h0M24 78h0M27 78h1M33 78h2M37 78h2M42 78h1M45 78h1M48 78h0M51 78h6M60 78h1M64 78h0M67 78h0M69 78h0M74 78h0M9 79h1M26 79h14M43 79h0M45 79h1M48 79h3M53 79h8M64 79h0M67 79h1M72 79h1M75 79h0M80 79h0M84 79h2M11 80h0M20 80h1M24 80h0M28 80h26M56 80h2M60 80h0M62 80h5M69 80h0M71 80h0M73 80h1M78 80h1M16 81h0M21 81h0M23 81h37M62 81h10M75 81h0M77 81h0M84 81h0M86 81h0M15 82h0M18 82h2M23 82h26M51 82h5M58 82h0M60 82h2M64 82h5M71 82h0M74 82h2M87 82h0M6 83h0M16 83h1M20 83h0M23 83h27M52 83h1M55 83h1M58 83h0M60 83h4M67 83h1M70 83h3M75 83h0M78 83h0M80 83h0M82 83h0M88 83h0M15 84h0M17 84h0M19 84h0M21 84h28M51 84h15M68 84h7M77 84h1M81 84h0M98 84h0M7 85h0M13 85h0M16 85h0M18 85h2M22 85h31M55 85h4M61 85h16M2 86h1M21 86h0M24 86h39M65 86h7M74 86h4M82 86h0M14 87h0M18 87h50M70 87h2M75 87h1M78 87h0M82 87h0M90 87h0M4 88h0M17 88h2M22 88h51M75 88h1M78 88h0M80 88h1M84 88h0M1 89h0M7 89h0M13 89h0M16 89h0M18 89h2M22 89h37M61 89h8M72 89h2M76 89h1M79 89h0M81 89h0M84 89h1M3 90h0M14 90h0M18 90h53M73 90h2M77 90h0M80 90h2M85 90h1M90 90h1M1 91h0M6 91h0M13 91h0M17 91h54M73 91h1M76 91h1M80 91h1M84 91h0M15 92h1M18 92h58M78 92h2M9 93h0M14 93h2M19 93h52M73 93h0M75 93h1M79 93h0M81 93h1M84 93h0M87 93h0M93 93h0M1 94h0M11 94h0M15 94h6M23 94h53M79 94h0M81 94h1M84 94h0M89 94h0M8 95h0M10 95h0M14 95h3M19 95h3M24 95h51M78 95h1M85 95h0M5 96h0M9 96h0M14 96h0M17 96h55M75 96h0M77 96h2M81 96h2M87 96h0M16 97h0M18 97h0M20 97h33M55 97h3M60 97h15M77 97h1M80 97h0M10 98h0M14 98h1M19 98h0M21 98h35M58 98h2M62 98h9M73 98h0M75 98h1M78 98h2M92 98h0M9 99h0M14 99h0M17 99h0M19 99h42M63 99h9M75 99h1M79 99h0M81 99h0M85 99h0M89 99h0M95 99h0M8 100h0M12 100h1M15 100h0M18 100h0M21 100h40M63 100h0M65 100h8M75 100h1M80 100h0M83 100h0M86 100h0M93 100h0M13 101h0M16 101h1M20 101h33M55 101h10M67 101h3M72 101h0M75 101h2M91 101h0M13 102h0M15 102h0M17 102h0M19 102h0M21 102h36M59 102h4M65 102h0M67 102h2M71 102h4M83 102h0M13 103h0M15 103h0M18 103h1M21 103h1M24 103h31M57 103h5M65 103h0M68 103h0M70 103h0M72 103h1M76 103h1M20 104h5M27 104h29M59 104h1M62 104h0M66 104h0M68 104h1M74 104h0M79 104h1M86 104h0M14 105h0M17 105h0M22 105h2M26 105h22M50 105h3M55 105h0M57 105h2M61 105h0M63 105h0M65 105h0M67 105h4M76 105h0M81 105h0M3 106h0M18 106h6M26 106h22M50 106h0M52 106h0M54 106h1M58 106h2M62 106h1M65 106h4M72 106h0M76 106h0M22 107h1M25 107h26M56 107h0M58 107h0M61 107h3M66 107h0M68 107h0M72 107h0M21 108h0M23 108h4M29 108h10M41 108h2M45 108h5M52 108h1M60 108h1M64 108h0M67 108h2M74 108h1M108 108h0M13 109h0M21 109h0M24 109h0M26 109h2M30 109h11M45 109h5M52 109h1M55 109h0M59 109h0M62 109h0M16 110h0M21 110h0M25 110h0M28 110h1M31 110h2M35 110h0M37 110h4M43 110h2M47 110h2M53 110h1M59 110h0M63 110h1M69 110h0M72 110h0M1 111h0M11 111h0M13 111h0M19 111h1M22 111h0M25 111h0M28 111h1M32 111h0M34 111h0M36 111h1M39 111h1M42 111h0M44 111h1M48 111h2M60 111h0M63 111h1M66 111h0M75 111h0M18 112h0M23 112h0M25 112h1M28 112h3M33 112h1M36 112h2M40 112h1M45 112h0M50 112h0M55 112h0M57 112h0M60 112h0M13 113h0M21 113h0M29 113h0M32 113h0M35 113h0M37 113h8M50 113h0M54 113h0M68 113h0M82 113h0M1 114h0M11 114h0M25 114h1M28 114h0M31 114h3M37 114h2M41 114h0M46 114h1M54 114h0M67 114h1M20 115h1M26 115h0M30 115h0M35 115h1M51 115h1M55 115h0M61 115h0M19 116h0M28 116h2M34 116h1M38 116h0M43 116h0M46 116h0M48 116h0M50 116h1M54 116h0M56 116h1M63 116h0M68 116h0M15 117h0M26 117h0M32 117h0M39 117h0M62 117h1M7 118h0M29 118h0M33 118h0M36 118h0M41 118h0M43 118h0M50 118h0M58 118h0M62 118h0M42 119h0M47 119h0M55 119h0M32 120h0M36 120h1M42 120h2M49 120h0M52 120h2M58 120h0M10 121h0M30 121h0M45 121h0M28 122h0M30 122h0M55 122h0M63 122h0M50 123h0M58 123h0M68 123h0M32 124h0M75 124h0M14 125h0M18 125h0M53 125h0M24 126h0M44 126h0M54 126h0M66 126h0M21 127h0M26 129h0M66 129h0M35 131h0M24 132h0M27 133h0M42 133h0M58 134h0M28 135h0M53 137h0M61 137h0M72 137h0" fill="none" stroke="#000" stroke-width="1.5" stroke-linecap="square"/>
<rect x="57.2" y="474.7" width="159.8" height="148.3" fill="none" stroke="#000" stroke-width="1.5"/>
<path d="M98.8 474.7L98.8 623" stroke="#000" stroke-width="1.5" fill="none"/>
<path d="M57.2 584.8L217 584.6" stroke="#000" stroke-width="1.5" fill="none"/>
<path d="M57.2 623L57.2 628M69.2 623L69.2 625.8M76.3 623L76.3 625.8M81.3 623L81.3 625.8M85.1 623L85.1 625.8M88.3 623L88.3 625.8M91 623L91 625.8M93.3 623L93.3 625.8M95.3 623L95.3 625.8M97.2 623L97.2 628M109.2 623L109.2 625.8M116.2 623L116.2 625.8M121.2 623L121.2 625.8M125.1 623L125.1 625.8M128.2 623L128.2 625.8M130.9 623L130.9 625.8M133.2 623L133.2 625.8M135.3 623L135.3 625.8M137.1 623L137.1 628M149.1 623L149.1 625.8M156.2 623L156.2 625.8M161.2 623L161.2 625.8M165 623L165 625.8M168.2 623L168.2 625.8M170.9 623L170.9 625.8M173.2 623L173.2 625.8M175.2 623L175.2 625.8M177.1 623L177.1 628M189.1 623L189.1 625.8M196.1 623L196.1 625.8M201.1 623L201.1 625.8M205 623L205 625.8M208.1 623L208.1 625.8M210.8 623L210.8 625.8M213.1 623L213.1 625.8M215.2 623L215.2 625.8M217 623L217 628M52.2 623L57.2 623M54.4 611.8L57.2 611.8M54.4 605.3L57.2 605.3M54.4 600.7L57.2 600.7M54.4 597.1L57.2 597.1M54.4 594.2L57.2 594.2M54.4 591.7L57.2 591.7M54.4 589.5L57.2 589.5M54.4 587.6L57.2 587.6M52.2 585.9L57.2 585.9M54.4 574.8L57.2 574.8M54.4 568.2L57.2 568.2M54.4 563.6L57.2 563.6M54.4 560L57.2 560M54.4 557.1L57.2 557.1M54.4 554.6L57.2 554.6M54.4 552.4L57.2 552.4M54.4 550.5L57.2 550.5M52.2 548.9L57.2 548.9M54.4 537.7L57.2 537.7M54.4 531.2L57.2 531.2M54.4 526.5L57.2 526.5M54.4 522.9L57.2 522.9M54.4 520L57.2 520M54.4 517.5L57.2 517.5M54.4 515.4L57.2 515.4M54.4 513.5L57.2 513.5M52.2 511.8L57.2 511.8M54.4 500.6L57.2 500.6M54.4 494.1L57.2 494.1M54.4 489.5L57.2 489.5M54.4 485.9L57.2 485.9M54.4 482.9L57.2 482.9M54.4 480.4L57.2 480.4M54.4 478.3L57.2 478.3M54.4 476.4L57.2 476.4M52.2 474.7L57.2 474.7" stroke="#000" stroke-width="1.2" fill="none"/>
<text x="51" y="637.5" font-size="8.2" stroke="#000" stroke-width="0.3" text-anchor="start">10<tspan dy="-5.2" font-size="8.8">0</tspan></text>
<text transform="translate(49.2 628.4) rotate(-90)" font-size="8.2" stroke="#000" stroke-width="0.3" text-anchor="start">10<tspan dy="-5.2" font-size="8.8">0</tspan></text>
<text x="90.4" y="637.5" font-size="8.2" stroke="#000" stroke-width="0.3" text-anchor="start">10<tspan dy="-5.2" font-size="8.8">1</tspan></text>
<text transform="translate(49.2 591.7) rotate(-90)" font-size="8.2" stroke="#000" stroke-width="0.3" text-anchor="start">10<tspan dy="-5.2" font-size="8.8">1</tspan></text>
<text x="129.8" y="637.5" font-size="8.2" stroke="#000" stroke-width="0.3" text-anchor="start">10<tspan dy="-5.2" font-size="8.8">2</tspan></text>
<text transform="translate(49.2 555) rotate(-90)" font-size="8.2" stroke="#000" stroke-width="0.3" text-anchor="start">10<tspan dy="-5.2" font-size="8.8">2</tspan></text>
<text x="169.1" y="637.5" font-size="8.2" stroke="#000" stroke-width="0.3" text-anchor="start">10<tspan dy="-5.2" font-size="8.8">3</tspan></text>
<text transform="translate(49.2 518.4) rotate(-90)" font-size="8.2" stroke="#000" stroke-width="0.3" text-anchor="start">10<tspan dy="-5.2" font-size="8.8">3</tspan></text>
<text x="208.5" y="637.5" font-size="8.2" stroke="#000" stroke-width="0.3" text-anchor="start">10<tspan dy="-5.2" font-size="8.8">4</tspan></text>
<text transform="translate(49.2 481.7) rotate(-90)" font-size="8.2" stroke="#000" stroke-width="0.3" text-anchor="start">10<tspan dy="-5.2" font-size="8.8">4</tspan></text>
<text x="167" y="498.3" font-size="12.3" font-weight="bold" text-anchor="start">32.8 %</text>
<text x="170.3" y="608.3" font-size="12.3" font-weight="bold" text-anchor="start">4.0 %</text>
<text transform="translate(18 543.6) rotate(-90)" font-size="16.3" font-weight="bold" text-anchor="middle">CXCR4-PE</text>
<text x="137.7" y="665.4" font-size="16.3" font-weight="bold" text-anchor="middle">Thy-1-FITC</text>
<rect x="354.5" y="475.1" width="41.6" height="109.5" fill="#d3d3d3"/>
<path transform="translate(354.5 475.5)" d="M76 48h0M57 54h0M95 55h0M107 55h0M110 57h0M108 58h2M113 58h0M103 59h0M110 59h0M119 59h0M109 60h0M111 60h0M113 60h0M120 60h0M66 61h0M100 61h0M118 61h0M69 62h0M111 62h1M97 63h0M101 63h0M104 63h0M107 63h1M110 63h0M100 64h1M103 64h0M105 64h2M109 64h1M114 64h0M89 65h0M97 65h0M104 65h1M108 65h0M111 65h0M78 66h0M85 66h1M89 66h0M93 66h1M101 66h4M107 66h1M113 66h0M122 66h0M70 67h0M77 67h0M83 67h0M97 67h3M108 67h1M113 67h2M40 68h0M65 68h0M94 68h0M97 68h1M102 68h0M106 68h0M111 68h0M114 68h1M118 68h0M42 69h0M45 69h0M67 69h0M75 69h1M79 69h0M87 69h1M91 69h0M96 69h0M98 69h1M101 69h0M103 69h0M105 69h1M111 69h1M114 69h0M116 69h0M119 69h0M65 70h0M69 70h1M73 70h0M77 70h3M82 70h1M85 70h3M91 70h2M97 70h0M101 70h1M105 70h0M107 70h0M112 70h3M52 71h0M66 71h0M72 71h0M75 71h0M83 71h1M86 71h1M89 71h0M92 71h0M96 71h3M101 71h1M104 71h0M107 71h0M110 71h3M115 71h1M118 71h0M53 72h0M67 72h1M71 72h0M73 72h0M75 72h1M79 72h0M85 72h4M91 72h0M93 72h4M99 72h2M104 72h1M108 72h3M115 72h1M119 72h0M51 73h0M62 73h1M66 73h0M70 73h1M73 73h0M75 73h1M78 73h8M88 73h1M92 73h0M94 73h3M99 73h5M106 73h5M113 73h0M117 73h1M120 73h1M123 73h0M58 74h0M67 74h1M70 74h0M72 74h0M74 74h8M84 74h1M87 74h7M96 74h2M101 74h0M103 74h2M107 74h4M114 74h1M117 74h0M124 74h0M58 75h0M69 75h1M72 75h22M96 75h8M106 75h4M112 75h1M116 75h1M119 75h0M122 75h0M58 76h1M61 76h1M65 76h0M67 76h0M69 76h0M71 76h4M77 76h25M105 76h6M113 76h1M116 76h3M121 76h1M60 77h0M66 77h3M71 77h25M98 77h8M108 77h2M112 77h3M118 77h0M120 77h0M45 78h0M57 78h0M59 78h0M64 78h0M67 78h41M110 78h7M119 78h2M123 78h0M59 79h0M61 79h1M64 79h1M67 79h32M101 79h10M113 79h4M121 79h0M123 79h0M58 80h6M66 80h28M96 80h7M105 80h13M121 80h2M55 81h3M64 81h46M112 81h2M116 81h1M119 81h1M123 81h0M62 82h2M66 82h38M106 82h9M117 82h1M120 82h0M122 82h0M124 82h0M55 83h0M57 83h1M61 83h55M118 83h0M120 83h1M41 84h0M55 84h1M59 84h0M62 84h58M123 84h0M56 85h1M59 85h1M62 85h51M115 85h1M119 85h1M124 85h0M51 86h0M54 86h0M57 86h2M61 86h50M113 86h7M123 86h1M43 87h0M45 87h0M53 87h0M60 87h1M63 87h52M117 87h6M57 88h0M59 88h1M63 88h49M114 88h4M120 88h2M59 89h54M115 89h2M120 89h0M47 90h0M49 90h0M52 90h0M55 90h0M61 90h41M104 90h11M118 90h2M57 91h5M64 91h45M111 91h5M118 91h0M122 91h0M52 92h0M54 92h0M57 92h1M61 92h47M111 92h0M113 92h1M116 92h4M124 92h0M48 93h0M53 93h0M58 93h0M60 93h0M62 93h1M66 93h40M108 93h4M115 93h6M59 94h2M64 94h49M115 94h0M117 94h2M124 94h0M32 95h0M54 95h0M56 95h0M58 95h0M60 95h0M62 95h3M67 95h36M105 95h9M117 95h0M56 96h0M60 96h0M62 96h0M64 96h0M66 96h4M72 96h43M121 96h0M124 96h0M39 97h0M46 97h0M59 97h1M62 97h1M65 97h45M112 97h6M121 97h3M54 98h0M56 98h0M64 98h40M107 98h0M109 98h0M111 98h6M120 98h0M39 99h0M55 99h1M59 99h0M62 99h0M64 99h1M67 99h28M98 99h3M103 99h0M105 99h5M115 99h2M124 99h0M62 100h2M68 100h35M105 100h0M107 100h0M109 100h2M113 100h0M116 100h1M120 100h0M45 101h0M53 101h0M60 101h0M63 101h0M66 101h3M71 101h23M96 101h8M107 101h0M109 101h1M112 101h1M116 101h0M122 101h0M49 102h0M60 102h1M64 102h0M66 102h1M70 102h0M72 102h17M91 102h1M94 102h3M99 102h6M107 102h1M111 102h0M116 102h0M118 102h1M121 102h0M61 103h0M66 103h1M69 103h24M95 103h1M98 103h6M106 103h2M110 103h3M115 103h0M118 103h1M121 103h0M69 104h0M72 104h0M75 104h10M87 104h7M96 104h2M102 104h0M104 104h1M108 104h5M117 104h0M124 104h0M54 105h0M61 105h0M63 105h0M69 105h0M71 105h0M73 105h0M75 105h5M82 105h1M85 105h17M109 105h0M114 105h2M53 106h0M60 106h0M64 106h0M68 106h1M72 106h12M86 106h1M90 106h5M100 106h4M106 106h0M109 106h0M111 106h0M115 106h0M120 106h0M61 107h0M67 107h1M71 107h3M76 107h0M78 107h0M80 107h0M82 107h0M84 107h0M86 107h1M89 107h2M93 107h0M97 107h0M103 107h2M110 107h0M112 107h0M58 108h1M67 108h0M73 108h2M77 108h0M80 108h5M87 108h1M90 108h3M97 108h0M99 108h0M106 108h0M109 108h0M111 108h0M114 108h0M116 108h0M119 108h0M124 108h0M57 109h0M59 109h0M64 109h0M70 109h0M72 109h0M75 109h0M78 109h0M81 109h1M87 109h0M89 109h3M94 109h0M107 109h0M114 109h0M55 110h0M68 110h0M70 110h0M72 110h0M80 110h0M83 110h0M86 110h0M92 110h0M96 110h1M99 110h0M101 110h4M111 110h0M113 110h0M41 111h0M67 111h0M71 111h0M75 111h0M78 111h0M82 111h0M87 111h1M90 111h0M92 111h0M94 111h1M98 111h0M101 111h0M106 111h0M108 111h0M111 111h0M122 111h0M68 112h0M72 112h0M79 112h0M84 112h2M90 112h0M93 112h1M96 112h1M104 112h0M68 113h0M75 113h0M77 113h0M84 113h1M89 113h1M96 113h0M98 113h0M111 113h0M71 114h0M78 114h0M81 114h0M83 114h1M112 114h0M70 115h0M72 115h0M77 115h0M80 115h0M83 115h0M90 115h0M94 115h0M96 115h0M98 115h0M104 115h0M64 116h0M71 116h0M73 116h0M81 116h0M83 116h1M87 116h0M91 116h0M101 116h0M59 117h0M69 117h0M71 117h0M74 117h0M78 117h0M90 117h0M111 117h0M57 118h0M73 118h0M75 118h1M80 118h0M86 118h0M93 118h3M101 118h0M65 119h0M87 119h0M112 119h0M72 120h0M88 120h0M90 120h0M98 120h0M115 120h0M91 121h0M94 121h0M58 122h0M75 122h0M80 122h0M82 122h0M89 122h1M95 122h0M99 122h0M112 122h0M76 123h0M78 123h0M86 123h0M91 123h1M97 123h0M69 124h0M75 124h0M88 124h0M118 124h0M72 125h0M92 125h0M95 125h0M72 126h0M75 126h0M82 126h0M73 127h0M83 127h0M92 127h0M98 127h0M103 127h0M90 128h0M97 128h0M70 129h0M76 129h0M78 129h0M87 129h0M95 129h0M97 129h0M75 130h0M91 130h1M90 131h0M88 132h0M95 132h0M81 133h1M88 133h0M76 136h0M84 136h0M90 136h0M78 138h0M79 139h0M98 144h0M78 146h0" fill="none" stroke="#000" stroke-width="1.5" stroke-linecap="square"/>
<rect x="354.5" y="475.1" width="157.7" height="147.2" fill="none" stroke="#000" stroke-width="1.5"/>
<path d="M396.1 475.1L396.1 622.3" stroke="#000" stroke-width="1.5" fill="none"/>
<path d="M354.5 584.6L512.2 584.3" stroke="#000" stroke-width="1.5" fill="none"/>
<path d="M354.5 622.3L354.5 627.3M366.4 622.3L366.4 625.1M373.3 622.3L373.3 625.1M378.2 622.3L378.2 625.1M382.1 622.3L382.1 625.1M385.2 622.3L385.2 625.1M387.8 622.3L387.8 625.1M390.1 622.3L390.1 625.1M392.1 622.3L392.1 625.1M393.9 622.3L393.9 627.3M405.8 622.3L405.8 625.1M412.7 622.3L412.7 625.1M417.7 622.3L417.7 625.1M421.5 622.3L421.5 625.1M424.6 622.3L424.6 625.1M427.2 622.3L427.2 625.1M429.5 622.3L429.5 625.1M431.5 622.3L431.5 625.1M433.4 622.3L433.4 627.3M445.2 622.3L445.2 625.1M452.2 622.3L452.2 625.1M457.1 622.3L457.1 625.1M460.9 622.3L460.9 625.1M464 622.3L464 625.1M466.7 622.3L466.7 625.1M469 622.3L469 625.1M471 622.3L471 625.1M472.8 622.3L472.8 627.3M484.6 622.3L484.6 625.1M491.6 622.3L491.6 625.1M496.5 622.3L496.5 625.1M500.3 622.3L500.3 625.1M503.5 622.3L503.5 625.1M506.1 622.3L506.1 625.1M508.4 622.3L508.4 625.1M510.4 622.3L510.4 625.1M512.2 622.3L512.2 627.3M349.5 622.3L354.5 622.3M351.7 611.2L354.5 611.2M351.7 604.7L354.5 604.7M351.7 600.1L354.5 600.1M351.7 596.6L354.5 596.6M351.7 593.7L354.5 593.7M351.7 591.2L354.5 591.2M351.7 589.1L354.5 589.1M351.7 587.2L354.5 587.2M349.5 585.5L354.5 585.5M351.7 574.4L354.5 574.4M351.7 567.9L354.5 567.9M351.7 563.3L354.5 563.3M351.7 559.8L354.5 559.8M351.7 556.9L354.5 556.9M351.7 554.4L354.5 554.4M351.7 552.3L354.5 552.3M351.7 550.4L354.5 550.4M349.5 548.7L354.5 548.7M351.7 537.6L354.5 537.6M351.7 531.1L354.5 531.1M351.7 526.5L354.5 526.5M351.7 523L354.5 523M351.7 520.1L354.5 520.1M351.7 517.6L354.5 517.6M351.7 515.5L354.5 515.5M351.7 513.6L354.5 513.6M349.5 511.9L354.5 511.9M351.7 500.8L354.5 500.8M351.7 494.3L354.5 494.3M351.7 489.7L354.5 489.7M351.7 486.2L354.5 486.2M351.7 483.3L354.5 483.3M351.7 480.8L354.5 480.8M351.7 478.7L354.5 478.7M351.7 476.8L354.5 476.8M349.5 475.1L354.5 475.1" stroke="#000" stroke-width="1.2" fill="none"/>
<text x="348" y="637.4" font-size="8.2" stroke="#000" stroke-width="0.3" text-anchor="start">10<tspan dy="-5.2" font-size="8.8">0</tspan></text>
<text transform="translate(346.8 627.7) rotate(-90)" font-size="8.2" stroke="#000" stroke-width="0.3" text-anchor="start">10<tspan dy="-5.2" font-size="8.8">0</tspan></text>
<text x="387.2" y="637.4" font-size="8.2" stroke="#000" stroke-width="0.3" text-anchor="start">10<tspan dy="-5.2" font-size="8.8">1</tspan></text>
<text transform="translate(346.8 591.3) rotate(-90)" font-size="8.2" stroke="#000" stroke-width="0.3" text-anchor="start">10<tspan dy="-5.2" font-size="8.8">1</tspan></text>
<text x="426.4" y="637.4" font-size="8.2" stroke="#000" stroke-width="0.3" text-anchor="start">10<tspan dy="-5.2" font-size="8.8">2</tspan></text>
<text transform="translate(346.8 554.9) rotate(-90)" font-size="8.2" stroke="#000" stroke-width="0.3" text-anchor="start">10<tspan dy="-5.2" font-size="8.8">2</tspan></text>
<text x="465.5" y="637.4" font-size="8.2" stroke="#000" stroke-width="0.3" text-anchor="start">10<tspan dy="-5.2" font-size="8.8">3</tspan></text>
<text transform="translate(346.8 518.5) rotate(-90)" font-size="8.2" stroke="#000" stroke-width="0.3" text-anchor="start">10<tspan dy="-5.2" font-size="8.8">3</tspan></text>
<text x="504.7" y="637.4" font-size="8.2" stroke="#000" stroke-width="0.3" text-anchor="start">10<tspan dy="-5.2" font-size="8.8">4</tspan></text>
<text transform="translate(346.8 482.1) rotate(-90)" font-size="8.2" stroke="#000" stroke-width="0.3" text-anchor="start">10<tspan dy="-5.2" font-size="8.8">4</tspan></text>
<text x="360.2" y="496.4" font-size="12.3" font-weight="bold" text-anchor="start">0.2 %</text>
<text x="359.6" y="607.5" font-size="12.3" font-weight="bold" text-anchor="start">0.0 %</text>
<text transform="translate(312.3 541.6) rotate(-90)" font-size="16.3" font-weight="bold" text-anchor="middle">CXCR4-PE</text>
<text x="431.4" y="665.4" font-size="16.3" font-weight="bold" text-anchor="middle">HLA-DR-FITC</text>
<rect x="59.3" y="707.3" width="41.2" height="109.6" fill="#d3d3d3"/>
<path transform="translate(59.5 707.5)" d="M47 54h0M62 55h0M41 58h0M86 58h0M51 59h0M72 59h0M65 61h1M47 62h0M69 62h0M23 63h0M58 63h0M63 63h0M75 63h0M86 63h0M61 64h0M81 64h0M29 65h0M41 65h0M54 65h0M64 65h0M49 66h1M56 66h0M34 67h0M36 67h0M46 67h0M75 67h0M83 67h0M27 68h0M48 68h0M55 68h0M60 68h1M63 68h0M70 68h0M20 69h0M36 69h0M43 69h0M46 69h0M48 69h0M50 69h0M52 69h0M55 69h0M59 69h0M67 69h0M73 69h0M1 70h0M22 70h0M24 70h1M34 70h1M46 70h0M57 70h0M59 70h0M62 70h0M71 70h0M73 70h0M3 71h0M9 71h0M14 71h0M24 71h0M27 71h0M34 71h0M38 71h0M40 71h0M42 71h0M44 71h0M49 71h0M53 71h0M65 71h0M10 72h0M14 72h1M22 72h2M26 72h0M29 72h0M32 72h0M34 72h0M43 72h0M49 72h1M53 72h0M55 72h0M59 72h1M65 72h0M68 72h3M9 73h0M11 73h0M19 73h0M22 73h1M26 73h0M28 73h0M30 73h0M33 73h0M37 73h0M39 73h0M44 73h0M50 73h0M55 73h0M57 73h0M60 73h0M63 73h0M66 73h0M69 73h1M72 73h1M9 74h0M19 74h0M25 74h1M28 74h6M36 74h0M39 74h0M41 74h0M43 74h1M46 74h3M55 74h0M57 74h0M61 74h0M65 74h0M68 74h1M74 74h0M6 75h0M12 75h0M15 75h0M17 75h0M19 75h7M28 75h0M30 75h2M35 75h0M37 75h1M40 75h1M43 75h1M46 75h0M48 75h0M51 75h0M57 75h0M62 75h1M66 75h1M70 75h1M75 75h0M90 75h0M1 76h0M17 76h0M19 76h0M21 76h1M24 76h15M42 76h0M45 76h0M47 76h0M50 76h2M56 76h0M59 76h2M65 76h0M69 76h0M71 76h0M75 76h1M14 77h0M16 77h0M18 77h2M22 77h15M40 77h3M47 77h0M49 77h0M51 77h1M54 77h4M60 77h0M62 77h2M69 77h0M5 78h0M7 78h0M10 78h3M16 78h0M18 78h17M37 78h0M39 78h3M46 78h1M49 78h0M51 78h0M53 78h1M56 78h2M63 78h0M65 78h5M77 78h0M79 78h0M84 78h0M1 79h0M4 79h0M9 79h0M11 79h0M13 79h32M48 79h1M51 79h0M53 79h0M55 79h1M58 79h2M62 79h3M67 79h0M70 79h1M74 79h3M80 79h0M1 80h0M5 80h0M7 80h2M13 80h29M44 80h5M52 80h0M55 80h2M61 80h3M66 80h0M68 80h0M77 80h2M81 80h0M84 80h0M12 81h28M42 81h1M46 81h4M53 81h1M56 81h4M62 81h2M68 81h4M74 81h2M79 81h0M84 81h1M89 81h0M7 82h0M9 82h4M15 82h2M19 82h20M42 82h1M45 82h0M47 82h1M50 82h0M52 82h4M58 82h1M61 82h7M70 82h0M72 82h0M74 82h2M78 82h1M1 83h1M9 83h5M16 83h41M59 83h6M67 83h8M79 83h0M82 83h0M1 84h0M9 84h1M13 84h31M46 84h26M76 84h1M83 84h0M1 85h0M8 85h0M12 85h56M70 85h7M82 85h0M87 85h0M1 86h0M3 86h0M8 86h1M11 86h53M66 86h8M78 86h0M81 86h0M2 87h0M9 87h0M11 87h3M16 87h31M49 87h10M61 87h15M79 87h0M83 87h1M87 87h0M4 88h0M7 88h2M11 88h0M13 88h30M45 88h35M85 88h0M87 88h1M1 89h1M7 89h0M9 89h0M12 89h33M47 89h3M52 89h16M70 89h1M73 89h7M85 89h0M1 90h0M4 90h0M7 90h43M52 90h28M85 90h0M90 90h0M4 91h0M10 91h34M47 91h6M55 91h5M62 91h10M74 91h5M81 91h0M88 91h0M90 91h0M1 92h0M7 92h1M10 92h68M80 92h1M84 92h0M90 92h0M1 93h0M3 93h2M10 93h65M78 93h1M81 93h0M89 93h0M4 94h0M6 94h1M9 94h66M78 94h3M1 95h1M5 95h0M9 95h41M52 95h0M54 95h12M68 95h6M77 95h3M84 95h0M1 96h0M4 96h0M7 96h0M12 96h44M58 96h14M74 96h5M81 96h0M83 96h1M86 96h0M88 96h0M4 97h0M9 97h0M12 97h1M15 97h29M46 97h6M54 97h19M75 97h1M78 97h1M3 98h0M5 98h0M12 98h33M47 98h1M50 98h1M54 98h9M65 98h10M77 98h1M83 98h0M3 99h0M10 99h0M12 99h0M14 99h25M41 99h2M47 99h1M50 99h0M53 99h24M82 99h0M85 99h0M7 100h0M10 100h1M13 100h1M17 100h23M42 100h5M49 100h1M52 100h20M74 100h3M79 100h0M6 101h0M8 101h0M11 101h1M14 101h0M17 101h17M36 101h2M40 101h0M43 101h1M46 101h0M51 101h6M59 101h13M75 101h3M1 102h0M9 102h0M14 102h1M18 102h3M23 102h15M40 102h2M44 102h1M47 102h2M51 102h0M53 102h0M55 102h8M65 102h2M69 102h0M72 102h1M79 102h0M83 102h0M8 103h0M12 103h0M15 103h0M19 103h0M21 103h0M23 103h2M27 103h1M31 103h3M36 103h0M39 103h2M45 103h2M49 103h0M51 103h2M55 103h1M59 103h0M62 103h0M64 103h6M74 103h0M80 103h0M1 104h0M7 104h1M12 104h0M16 104h1M19 104h4M25 104h0M29 104h2M33 104h4M39 104h0M42 104h2M47 104h0M49 104h1M55 104h0M57 104h1M60 104h2M64 104h1M67 104h0M70 104h1M74 104h0M76 104h3M2 105h0M11 105h0M14 105h1M18 105h0M21 105h2M25 105h2M30 105h0M37 105h0M39 105h0M43 105h0M45 105h3M51 105h0M53 105h0M55 105h0M61 105h1M66 105h2M70 105h0M72 105h0M74 105h0M78 105h0M89 105h0M12 106h0M18 106h1M23 106h6M33 106h0M35 106h1M39 106h1M43 106h0M48 106h0M56 106h0M59 106h0M62 106h1M67 106h0M69 106h1M72 106h0M75 106h0M13 107h0M15 107h0M17 107h1M23 107h0M29 107h0M31 107h1M38 107h0M45 107h0M47 107h0M50 107h0M52 107h0M55 107h1M58 107h0M60 107h1M63 107h1M74 107h0M76 107h0M1 108h0M18 108h0M20 108h0M23 108h0M30 108h3M40 108h0M45 108h0M49 108h0M54 108h0M58 108h0M63 108h0M69 108h0M76 108h0M17 109h0M21 109h0M24 109h0M36 109h2M49 109h1M52 109h0M58 109h0M60 109h2M68 109h0M80 109h0M11 110h0M15 110h1M22 110h0M31 110h0M35 110h0M38 110h3M55 110h0M67 110h0M69 110h1M72 110h0M80 110h0M17 111h0M23 111h0M28 111h0M34 111h0M37 111h1M40 111h0M44 111h0M48 111h0M50 111h0M62 111h0M78 111h0M23 112h0M25 112h0M29 112h1M33 112h0M38 112h0M43 112h0M47 112h0M51 112h0M61 112h0M75 112h0M81 112h0M17 113h0M19 113h0M27 113h0M29 113h1M33 113h0M36 113h0M42 113h1M15 114h0M31 114h0M36 114h0M55 114h0M61 114h0M4 115h0M20 115h0M25 115h0M40 115h0M56 115h1M64 115h0M17 116h0M30 116h0M34 116h0M38 116h1M44 116h0M49 116h0M16 117h0M20 117h0M28 117h2M34 117h1M37 117h0M41 117h0M44 117h0M51 117h0M61 117h0M23 118h0M28 118h0M33 118h0M39 118h0M16 119h0M20 119h0M28 119h0M36 119h0M14 120h0M31 120h0M37 120h0M40 120h0M46 120h1M49 120h0M60 120h0M73 120h0M25 121h0M34 121h0M37 121h0M46 121h0M50 121h0M53 121h0M18 122h0M27 122h1M33 122h0M44 122h0M46 122h0M51 122h0M8 123h0M14 123h0M45 123h1M1 124h0M13 124h0M23 124h0M38 124h0M45 124h0M65 124h0M32 125h0M36 125h0M41 125h0M49 126h0M29 127h0M40 127h0M54 127h0M34 128h0M20 129h0M1 131h0M19 131h0M26 131h0M37 131h0M41 131h0M26 132h0M54 132h0M48 133h0" fill="none" stroke="#000" stroke-width="1.5" stroke-linecap="square"/>
<rect x="59.3" y="707.3" width="157.8" height="146.6" fill="none" stroke="#000" stroke-width="1.5"/>
<path d="M100.5 707.3L100.5 853.9" stroke="#000" stroke-width="1.5" fill="none"/>
<path d="M59.3 816.9L217.1 815.8" stroke="#000" stroke-width="1.5" fill="none"/>
<path d="M59.3 853.9L59.3 858.9M71.2 853.9L71.2 856.7M78.1 853.9L78.1 856.7M83.1 853.9L83.1 856.7M86.9 853.9L86.9 856.7M90 853.9L90 856.7M92.6 853.9L92.6 856.7M94.9 853.9L94.9 856.7M96.9 853.9L96.9 856.7M98.8 853.9L98.8 858.9M110.6 853.9L110.6 856.7M117.6 853.9L117.6 856.7M122.5 853.9L122.5 856.7M126.3 853.9L126.3 856.7M129.4 853.9L129.4 856.7M132.1 853.9L132.1 856.7M134.4 853.9L134.4 856.7M136.4 853.9L136.4 856.7M138.2 853.9L138.2 858.9M150.1 853.9L150.1 856.7M157 853.9L157 856.7M162 853.9L162 856.7M165.8 853.9L165.8 856.7M168.9 853.9L168.9 856.7M171.5 853.9L171.5 856.7M173.8 853.9L173.8 856.7M175.8 853.9L175.8 856.7M177.7 853.9L177.7 858.9M189.5 853.9L189.5 856.7M196.5 853.9L196.5 856.7M201.4 853.9L201.4 856.7M205.2 853.9L205.2 856.7M208.3 853.9L208.3 856.7M211 853.9L211 856.7M213.3 853.9L213.3 856.7M215.3 853.9L215.3 856.7M217.1 853.9L217.1 858.9M54.3 853.9L59.3 853.9M56.5 842.9L59.3 842.9M56.5 836.4L59.3 836.4M56.5 831.8L59.3 831.8M56.5 828.3L59.3 828.3M56.5 825.4L59.3 825.4M56.5 822.9L59.3 822.9M56.5 820.8L59.3 820.8M56.5 818.9L59.3 818.9M54.3 817.2L59.3 817.2M56.5 806.2L59.3 806.2M56.5 799.8L59.3 799.8M56.5 795.2L59.3 795.2M56.5 791.6L59.3 791.6M56.5 788.7L59.3 788.7M56.5 786.3L59.3 786.3M56.5 784.2L59.3 784.2M56.5 782.3L59.3 782.3M54.3 780.6L59.3 780.6M56.5 769.6L59.3 769.6M56.5 763.1L59.3 763.1M56.5 758.5L59.3 758.5M56.5 755L59.3 755M56.5 752.1L59.3 752.1M56.5 749.6L59.3 749.6M56.5 747.5L59.3 747.5M56.5 745.6L59.3 745.6M54.3 743.9L59.3 743.9M56.5 732.9L59.3 732.9M56.5 726.5L59.3 726.5M56.5 721.9L59.3 721.9M56.5 718.3L59.3 718.3M56.5 715.4L59.3 715.4M56.5 713L59.3 713M56.5 710.9L59.3 710.9M56.5 709L59.3 709M54.3 707.3L59.3 707.3" stroke="#000" stroke-width="1.2" fill="none"/>
<text x="52.4" y="868.5" font-size="8.2" stroke="#000" stroke-width="0.3" text-anchor="start">10<tspan dy="-5.2" font-size="8.8">0</tspan></text>
<text transform="translate(51.2 859.3) rotate(-90)" font-size="8.2" stroke="#000" stroke-width="0.3" text-anchor="start">10<tspan dy="-5.2" font-size="8.8">0</tspan></text>
<text x="91.6" y="868.5" font-size="8.2" stroke="#000" stroke-width="0.3" text-anchor="start">10<tspan dy="-5.2" font-size="8.8">1</tspan></text>
<text transform="translate(51.2 823) rotate(-90)" font-size="8.2" stroke="#000" stroke-width="0.3" text-anchor="start">10<tspan dy="-5.2" font-size="8.8">1</tspan></text>
<text x="130.8" y="868.5" font-size="8.2" stroke="#000" stroke-width="0.3" text-anchor="start">10<tspan dy="-5.2" font-size="8.8">2</tspan></text>
<text transform="translate(51.2 786.8) rotate(-90)" font-size="8.2" stroke="#000" stroke-width="0.3" text-anchor="start">10<tspan dy="-5.2" font-size="8.8">2</tspan></text>
<text x="169.9" y="868.5" font-size="8.2" stroke="#000" stroke-width="0.3" text-anchor="start">10<tspan dy="-5.2" font-size="8.8">3</tspan></text>
<text transform="translate(51.2 750.5) rotate(-90)" font-size="8.2" stroke="#000" stroke-width="0.3" text-anchor="start">10<tspan dy="-5.2" font-size="8.8">3</tspan></text>
<text x="209.1" y="868.5" font-size="8.2" stroke="#000" stroke-width="0.3" text-anchor="start">10<tspan dy="-5.2" font-size="8.8">4</tspan></text>
<text transform="translate(51.2 714.3) rotate(-90)" font-size="8.2" stroke="#000" stroke-width="0.3" text-anchor="start">10<tspan dy="-5.2" font-size="8.8">4</tspan></text>
<text x="67.3" y="724.8" font-size="12.3" font-weight="bold" text-anchor="start">55 %</text>
<text x="69.4" y="846.3" font-size="12.3" font-weight="bold" text-anchor="start">9 %</text>
<text transform="translate(22.9 786.3) rotate(-90)" font-size="16.3" font-weight="bold" text-anchor="middle">CXCR4-PE</text>
<text x="145.7" y="901.5" font-size="16.3" font-weight="bold" text-anchor="middle">CD45RA-FITC</text>
<rect x="353.7" y="706.3" width="40.8" height="109.5" fill="#d3d3d3"/>
<path transform="translate(353.5 706.5)" d="M57 54h0M30 56h0M33 58h0M48 58h0M56 59h0M65 59h0M46 60h0M72 60h0M74 60h0M76 60h0M45 61h0M50 61h0M66 61h0M68 61h1M42 62h0M36 63h0M52 63h0M29 64h0M52 64h0M57 64h0M72 64h0M77 64h0M34 65h0M46 65h0M50 65h0M43 66h1M53 66h0M63 66h0M37 67h0M40 67h0M44 67h0M53 67h0M56 67h0M36 68h0M50 68h0M54 68h0M57 68h0M61 68h0M69 68h0M28 69h0M36 69h0M40 69h2M49 69h0M51 69h0M80 69h0M25 70h0M37 70h1M41 70h0M45 70h1M54 70h0M63 70h0M83 70h0M20 71h0M28 71h0M39 71h0M41 71h6M49 71h0M51 71h2M62 71h0M38 72h0M40 72h0M42 72h1M45 72h0M48 72h4M60 72h0M69 72h0M28 73h0M31 73h1M36 73h2M40 73h1M43 73h5M50 73h5M57 73h3M68 73h0M71 73h0M77 73h0M18 74h0M26 74h0M28 74h1M34 74h0M38 74h2M42 74h0M44 74h0M46 74h7M55 74h0M58 74h0M60 74h1M68 74h0M81 74h0M29 75h0M31 75h1M36 75h2M42 75h14M58 75h0M60 75h2M66 75h1M70 75h1M77 75h0M27 76h0M29 76h0M34 76h0M36 76h13M51 76h12M71 76h0M31 77h0M33 77h0M37 77h21M60 77h2M65 77h0M71 77h0M75 77h0M83 77h0M98 77h0M20 78h0M27 78h0M29 78h0M34 78h22M58 78h1M62 78h0M65 78h0M67 78h0M74 78h0M85 78h0M30 79h0M32 79h1M36 79h21M59 79h1M62 79h1M67 79h0M70 79h0M76 79h1M80 79h0M26 80h0M29 80h0M32 80h26M60 80h2M68 80h0M78 80h0M23 81h0M25 81h0M31 81h4M37 81h25M66 81h0M73 81h0M77 81h0M80 81h1M22 82h0M24 82h0M31 82h2M35 82h28M65 82h1M74 82h1M20 83h0M23 83h0M26 83h0M28 83h3M34 83h0M36 83h24M62 83h3M67 83h0M69 83h0M74 83h1M96 83h0M14 84h0M24 84h0M26 84h0M29 84h1M32 84h36M70 84h0M82 84h0M6 85h0M23 85h0M26 85h3M31 85h32M65 85h5M72 85h1M88 85h0M22 86h0M26 86h0M28 86h0M30 86h1M33 86h0M35 86h33M71 86h0M73 86h0M26 87h0M30 87h33M65 87h3M71 87h0M74 87h2M20 88h0M27 88h1M30 88h38M73 88h0M77 88h0M83 88h0M7 89h0M19 89h0M22 89h0M27 89h34M63 89h0M65 89h0M67 89h1M70 89h0M75 89h0M23 90h0M31 90h35M72 90h0M80 90h1M18 91h0M21 91h1M25 91h0M28 91h39M72 91h0M74 91h0M76 91h0M86 91h0M89 91h0M24 92h0M27 92h0M29 92h3M34 92h30M66 92h4M80 92h1M27 93h3M33 93h34M71 93h0M73 93h0M21 94h0M23 94h1M29 94h35M72 94h0M20 95h0M25 95h0M29 95h0M31 95h30M64 95h5M75 95h0M15 96h0M23 96h0M25 96h1M29 96h34M66 96h0M68 96h2M17 97h0M22 97h8M33 97h31M67 97h0M69 97h0M71 97h0M82 97h1M85 97h0M24 98h0M28 98h2M32 98h33M69 98h0M74 98h0M80 98h0M25 99h0M30 99h2M34 99h27M63 99h3M70 99h0M33 100h33M68 100h0M72 100h0M14 101h0M25 101h0M27 101h0M30 101h31M63 101h0M66 101h0M69 101h0M77 101h0M79 101h0M17 102h0M28 102h0M30 102h2M34 102h27M68 102h0M71 102h0M80 102h0M82 102h0M20 103h0M23 103h0M25 103h1M28 103h0M31 103h0M33 103h1M36 103h24M65 103h0M67 103h2M71 103h0M73 103h0M81 103h0M87 103h0M14 104h0M20 104h0M27 104h1M32 104h0M35 104h1M38 104h19M59 104h2M64 104h0M73 104h0M19 105h0M27 105h0M29 105h1M32 105h2M36 105h17M57 105h2M61 105h1M64 105h0M67 105h0M73 105h0M76 105h0M27 106h0M29 106h0M31 106h0M33 106h0M36 106h0M38 106h14M54 106h2M59 106h0M63 106h0M69 106h1M79 106h0M13 107h0M34 107h0M36 107h1M40 107h0M42 107h14M58 107h0M61 107h0M63 107h0M70 107h0M25 108h0M29 108h1M39 108h1M42 108h8M52 108h5M105 108h0M28 109h0M34 109h0M36 109h3M43 109h2M47 109h4M55 109h0M57 109h0M60 109h0M63 109h0M68 109h0M34 110h0M37 110h0M39 110h0M41 110h2M45 110h0M47 110h3M52 110h0M54 110h0M59 110h0M64 110h0M33 111h1M38 111h0M40 111h0M42 111h0M46 111h0M48 111h1M55 111h2M60 111h2M30 112h0M34 112h0M38 112h0M46 112h0M49 112h0M51 112h0M62 112h1M15 113h0M23 113h0M29 113h1M44 113h2M48 113h1M51 113h0M57 113h1M90 113h0M10 114h0M41 114h0M48 114h0M50 114h0M24 115h0M42 115h0M47 115h0M49 115h0M63 115h1M66 115h0M69 115h0M30 116h1M33 116h0M39 116h0M41 116h0M48 116h1M56 116h0M60 116h0M21 117h0M34 117h0M40 117h1M43 117h0M48 117h0M50 117h0M55 117h0M57 117h0M64 117h0M66 117h0M18 118h0M41 118h0M43 118h0M49 118h0M53 118h0M25 119h0M36 119h0M39 119h0M46 119h0M31 120h0M35 120h0M41 120h0M46 120h0M67 120h0M76 120h0M78 120h0M32 121h0M35 121h0M44 121h0M50 121h0M24 122h0M37 122h0M52 122h0M20 123h0M30 123h0M35 123h0M41 123h1M45 123h0M52 123h0M70 123h0M28 124h1M39 124h0M52 124h0M56 124h0M32 125h0M42 125h0M45 125h1M51 125h0M31 127h2M50 127h0M27 128h0M33 128h0M43 128h0M58 128h1M49 129h0M34 130h0M37 130h0M47 131h0M46 132h0" fill="none" stroke="#000" stroke-width="1.5" stroke-linecap="square"/>
<rect x="353.7" y="706.3" width="158.2" height="146.8" fill="none" stroke="#000" stroke-width="1.5"/>
<path d="M394.5 706.3L394.5 853.1" stroke="#000" stroke-width="1.5" fill="none"/>
<path d="M353.7 815.8L511.9 815.2" stroke="#000" stroke-width="1.5" fill="none"/>
<path d="M353.7 853.1L353.7 858.1M365.6 853.1L365.6 855.9M372.6 853.1L372.6 855.9M377.5 853.1L377.5 855.9M381.3 853.1L381.3 855.9M384.5 853.1L384.5 855.9M387.1 853.1L387.1 855.9M389.4 853.1L389.4 855.9M391.4 853.1L391.4 855.9M393.2 853.1L393.2 858.1M405.2 853.1L405.2 855.9M412.1 853.1L412.1 855.9M417.1 853.1L417.1 855.9M420.9 853.1L420.9 855.9M424 853.1L424 855.9M426.7 853.1L426.7 855.9M429 853.1L429 855.9M431 853.1L431 855.9M432.8 853.1L432.8 858.1M444.7 853.1L444.7 855.9M451.7 853.1L451.7 855.9M456.6 853.1L456.6 855.9M460.4 853.1L460.4 855.9M463.6 853.1L463.6 855.9M466.2 853.1L466.2 855.9M468.5 853.1L468.5 855.9M470.5 853.1L470.5 855.9M472.3 853.1L472.3 858.1M484.3 853.1L484.3 855.9M491.2 853.1L491.2 855.9M496.2 853.1L496.2 855.9M500 853.1L500 855.9M503.1 853.1L503.1 855.9M505.8 853.1L505.8 855.9M508.1 853.1L508.1 855.9M510.1 853.1L510.1 855.9M511.9 853.1L511.9 858.1M348.7 853.1L353.7 853.1M350.9 842.1L353.7 842.1M350.9 835.6L353.7 835.6M350.9 831L353.7 831M350.9 827.4L353.7 827.4M350.9 824.5L353.7 824.5M350.9 822.1L353.7 822.1M350.9 820L353.7 820M350.9 818.1L353.7 818.1M348.7 816.4L353.7 816.4M350.9 805.4L353.7 805.4M350.9 798.9L353.7 798.9M350.9 794.3L353.7 794.3M350.9 790.7L353.7 790.7M350.9 787.8L353.7 787.8M350.9 785.4L353.7 785.4M350.9 783.3L353.7 783.3M350.9 781.4L353.7 781.4M348.7 779.7L353.7 779.7M350.9 768.7L353.7 768.7M350.9 762.2L353.7 762.2M350.9 757.6L353.7 757.6M350.9 754L353.7 754M350.9 751.1L353.7 751.1M350.9 748.7L353.7 748.7M350.9 746.6L353.7 746.6M350.9 744.7L353.7 744.7M348.7 743L353.7 743M350.9 732L353.7 732M350.9 725.5L353.7 725.5M350.9 720.9L353.7 720.9M350.9 717.3L353.7 717.3M350.9 714.4L353.7 714.4M350.9 712L353.7 712M350.9 709.9L353.7 709.9M350.9 708L353.7 708M348.7 706.3L353.7 706.3" stroke="#000" stroke-width="1.2" fill="none"/>
<text x="348.1" y="868.2" font-size="8.2" stroke="#000" stroke-width="0.3" text-anchor="start">10<tspan dy="-5.2" font-size="8.8">0</tspan></text>
<text transform="translate(345.8 858.5) rotate(-90)" font-size="8.2" stroke="#000" stroke-width="0.3" text-anchor="start">10<tspan dy="-5.2" font-size="8.8">0</tspan></text>
<text x="387" y="868.2" font-size="8.2" stroke="#000" stroke-width="0.3" text-anchor="start">10<tspan dy="-5.2" font-size="8.8">1</tspan></text>
<text transform="translate(345.8 822.2) rotate(-90)" font-size="8.2" stroke="#000" stroke-width="0.3" text-anchor="start">10<tspan dy="-5.2" font-size="8.8">1</tspan></text>
<text x="425.9" y="868.2" font-size="8.2" stroke="#000" stroke-width="0.3" text-anchor="start">10<tspan dy="-5.2" font-size="8.8">2</tspan></text>
<text transform="translate(345.8 785.9) rotate(-90)" font-size="8.2" stroke="#000" stroke-width="0.3" text-anchor="start">10<tspan dy="-5.2" font-size="8.8">2</tspan></text>
<text x="464.8" y="868.2" font-size="8.2" stroke="#000" stroke-width="0.3" text-anchor="start">10<tspan dy="-5.2" font-size="8.8">3</tspan></text>
<text transform="translate(345.8 749.6) rotate(-90)" font-size="8.2" stroke="#000" stroke-width="0.3" text-anchor="start">10<tspan dy="-5.2" font-size="8.8">3</tspan></text>
<text x="503.7" y="868.2" font-size="8.2" stroke="#000" stroke-width="0.3" text-anchor="start">10<tspan dy="-5.2" font-size="8.8">4</tspan></text>
<text transform="translate(345.8 713.3) rotate(-90)" font-size="8.2" stroke="#000" stroke-width="0.3" text-anchor="start">10<tspan dy="-5.2" font-size="8.8">4</tspan></text>
<text x="360.4" y="724.7" font-size="12.3" font-weight="bold" text-anchor="start">36 %</text>
<text x="364.6" y="844.6" font-size="12.3" font-weight="bold" text-anchor="start">7 %</text>
<text transform="translate(310.9 786.5) rotate(-90)" font-size="16.3" font-weight="bold" text-anchor="middle">CXCR4-PE</text>
<text x="431" y="900.7" font-size="16.3" font-weight="bold" text-anchor="middle">CD11a-FITC</text>
</svg>
</body>
</html>
